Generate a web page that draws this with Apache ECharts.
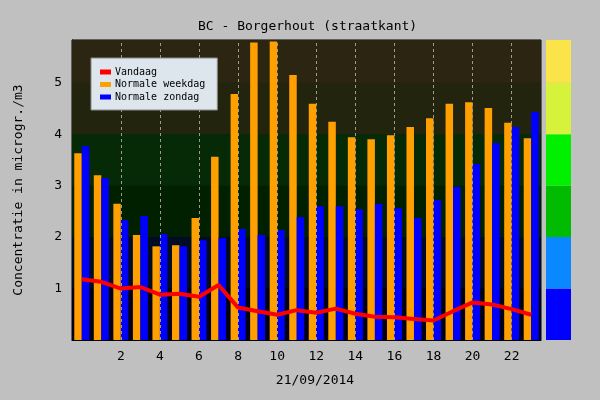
<!DOCTYPE html>
<html>
<head>
<meta charset="utf-8">
<script src="https://cdn.jsdelivr.net/npm/echarts@6/dist/echarts.min.js"></script>
<style>
html,body{margin:0;padding:0;background:#c0c0c0;}
#c{width:600px;height:400px;}
</style>
</head>
<body>
<div id="c"></div>
<script>
var hours = ['0','1','2','3','4','5','6','7','8','9','10','11','12','13','14','15','16','17','18','19','20','21','22','23'];
var vandaag = [1.18,1.13,1.00,1.03,0.88,0.90,0.84,1.07,0.63,0.56,0.49,0.58,0.53,0.61,0.51,0.45,0.44,0.41,0.38,0.56,0.73,0.69,0.60,0.49];
var weekdag = [3.63,3.20,2.65,2.04,1.82,1.84,2.37,3.56,4.78,5.78,5.80,5.15,4.59,4.24,3.94,3.90,3.98,4.14,4.31,4.59,4.62,4.51,4.22,3.92];
var zondag = [3.77,3.15,2.33,2.41,2.06,1.82,1.94,1.98,2.16,2.04,2.14,2.39,2.60,2.60,2.54,2.65,2.56,2.37,2.72,2.98,3.42,3.83,4.14,4.43];
var yTicks = [1,2,3,4,5];
var yMax = 5.83;
var bandEdges = [0,1,2,3,4,5,5.83];
var bandColors = ['#000016','#000c26','#002000','#052a05','#22240e','#2b2512'];
var scaleColors = ['#0000ff','#0a88ff','#00bb00','#00f000','#d6f23a','#fbe34a'];
var gridHours = ['2','4','6','8','10','12','14','16','18','20','22'];

var FONT = 'DejaVu Sans Mono';
var chart = echarts.init(document.getElementById('c'), null, {renderer:'canvas'});

var bgAreas = [];
for (var i = 0; i < bandColors.length; i++) {
  bgAreas.push([{yAxis: bandEdges[i], itemStyle:{color: bandColors[i], opacity:1, borderWidth:0}}, {yAxis: yMax}]);
}
var scaleSeries = [];
for (var j = 0; j < scaleColors.length; j++) {
  scaleSeries.push({
    type:'bar', xAxisIndex:1, yAxisIndex:2, stack:'scale', barWidth:'100%', silent:true,
    data:[bandEdges[j+1]-bandEdges[j]], itemStyle:{color: scaleColors[j]}
  });
}

var option = {
  backgroundColor:'#c0c0c0',
  animation:false,
  textStyle:{fontFamily:FONT, color:'#000'},
  title:{text:'BC - Borgerhout (straatkant)', left:193, top:15,
    textStyle:{fontFamily:FONT, fontSize:13, fontWeight:'normal', color:'#000'}},
  legend:{
    orient:'vertical', left:91, top:58,
    padding:[8,12,7,9], itemGap:0.5, itemWidth:11, itemHeight:5, itemStyle:{borderWidth:0},
    backgroundColor:'#dde5ed', borderColor:'#8a8a8a', borderWidth:1,
    textStyle:{fontFamily:FONT, fontSize:10, color:'#000', lineHeight:12, padding:[0,0,0,-1]},
    data:[{name:'Vandaag', icon:'rect'},{name:'Normale weekdag', icon:'rect'},{name:'Normale zondag', icon:'rect'}]
  },
  grid:[
    {left:72, right:59, top:40, bottom:60, show:true, borderColor:'#000', borderWidth:1, backgroundColor:'transparent'},
    {left:546, width:25, top:40, bottom:60}
  ],
  xAxis:[
    {type:'category', data:hours, gridIndex:0, boundaryGap:true,
     axisLine:{show:true, lineStyle:{color:'#000'}}, axisTick:{show:false},
     axisLabel:{interval:function(idx){return idx>0 && idx%2===0;}, margin:10, fontFamily:FONT, fontSize:13, color:'#000'},
     splitLine:{show:false},
     name:'21/09/2014', nameLocation:'middle', nameGap:34,
     nameTextStyle:{fontFamily:FONT, fontSize:13, color:'#000', padding:[0,0,0,17]}},
    {type:'category', data:['s'], gridIndex:1, show:false}
  ],
  yAxis:[
    {type:'value', gridIndex:0, min:0, max:yMax, interval:1,
     axisLine:{show:true, lineStyle:{color:'#000'}},
     axisTick:{show:true, inside:true, length:8, lineStyle:{color:'#000'}},
     axisLabel:{margin:10, fontFamily:FONT, fontSize:13, color:'#000',
       formatter:function(v){return yTicks.indexOf(v)>=0 ? String(v) : '';}},
     splitLine:{show:false},
     name:'Concentratie in microgr./m3', nameLocation:'middle', nameGap:47,
     nameTextStyle:{fontFamily:FONT, fontSize:13, color:'#000'}},
    {type:'value', gridIndex:0, min:0, max:yMax, interval:1, position:'right',
     axisLine:{show:false}, axisLabel:{show:false}, splitLine:{show:false},
     axisTick:{show:true, inside:true, length:8, lineStyle:{color:'#000'}}},
    {type:'value', gridIndex:1, min:0, max:yMax, show:false}
  ],
  series:[
    {name:'bg', type:'line', data:hours.map(function(){return null;}), z:0, silent:true,
     showSymbol:false, lineStyle:{opacity:0},
     markArea:{silent:true, itemStyle:{borderWidth:0}, data:bgAreas}},
    {name:'Normale weekdag', type:'bar', data:weekdag, barWidth:7.5, barGap:'0%', z:2,
     itemStyle:{color:'#ffa000'}},
    {name:'Normale zondag', type:'bar', data:zondag, barWidth:7.5, barGap:'0%', z:2,
     itemStyle:{color:'#0000ff'}},
    {name:'Vandaag', type:'line', data:vandaag, z:4, symbol:'none', smooth:false,
     lineStyle:{color:'#ff0000', width:4}, itemStyle:{color:'#ff0000'},
     markLine:{silent:true, symbol:'none', label:{show:false}, z:3,
       lineStyle:{color:'#a09c88', type:[3,3], width:1},
       data:gridHours.map(function(h){return {xAxis:h};})}}
  ].concat(scaleSeries)
};
chart.setOption(option);
</script>
</body>
</html>
